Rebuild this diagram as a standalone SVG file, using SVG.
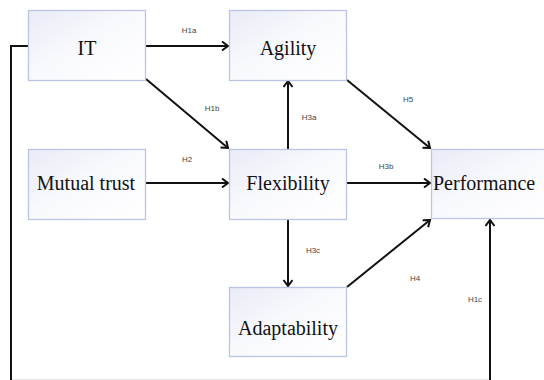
<svg xmlns="http://www.w3.org/2000/svg" width="544" height="380" viewBox="0 0 544 380">
  <defs>
    <linearGradient id="boxfill" x1="0" y1="0" x2="1" y2="1">
      <stop offset="0" stop-color="#e9ebf6"/>
      <stop offset="0.45" stop-color="#f8f9fd"/>
      <stop offset="1" stop-color="#ffffff"/>
    </linearGradient>
    <marker id="arr" markerUnits="userSpaceOnUse" markerWidth="10" markerHeight="12" refX="7" refY="5" orient="auto">
      <path d="M1,0.5 L7,5 L1,9.5" fill="none" stroke="#111" stroke-width="2"/>
    </marker>
    <style>
      .box { fill: url(#boxfill); stroke: #b9c5e3; stroke-width: 1.3; }
      .node text { font-family: "Liberation Serif", "Times New Roman", serif; font-size: 20px; fill: #111; }
      .conn { fill: none; stroke: #111; stroke-width: 2; }
      .lbl { font-family: "Liberation Sans", Arial, sans-serif; font-size: 8px; fill: #444; text-anchor: middle; }
    </style>
  </defs>
  <rect width="544" height="380" fill="#ffffff"/>

  <g id="connectors">
    <path class="conn" d="M146,46 L228,46" marker-end="url(#arr)"/>
    <path class="conn" d="M146,79 L228,148" marker-end="url(#arr)"/>
    <path class="conn" d="M146,183 L228,183" marker-end="url(#arr)"/>
    <path class="conn" d="M288,149 L288,81" marker-end="url(#arr)"/>
    <path class="conn" d="M347,80 L430,148" marker-end="url(#arr)"/>
    <path class="conn" d="M347,183 L430,183" marker-end="url(#arr)"/>
    <path class="conn" d="M288,219 L288,286" marker-end="url(#arr)"/>
    <path class="conn" d="M347,287 L430,220" marker-end="url(#arr)"/>
    <path class="conn" d="M28,46 L11,46 L11,383 L490,383 L490,220" marker-end="url(#arr)"/>
    <line x1="12" y1="379.5" x2="489" y2="379.5" stroke="#e6e6e6" stroke-width="1"/>
    <text class="lbl" x="189" y="33">H1a</text>
    <text class="lbl" x="212" y="111">H1b</text>
    <text class="lbl" x="187" y="162">H2</text>
    <text class="lbl" x="309" y="120">H3a</text>
    <text class="lbl" x="408" y="102">H5</text>
    <text class="lbl" x="386" y="169">H3b</text>
    <text class="lbl" x="313" y="253">H3c</text>
    <text class="lbl" x="415" y="281">H4</text>
    <text class="lbl" x="475" y="302">H1c</text>
  </g>

  <g id="it" class="node">
    <rect class="box" x="28.5" y="10.5" width="117" height="70"/>
    <text x="87" y="55" text-anchor="middle">IT</text>
  </g>
  <g id="agility" class="node">
    <rect class="box" x="229.5" y="10.5" width="117" height="70"/>
    <text x="288" y="55" text-anchor="middle">Agility</text>
  </g>
  <g id="mutual-trust" class="node">
    <rect class="box" x="28.5" y="149.5" width="117" height="70"/>
    <text x="86" y="190" text-anchor="middle">Mutual trust</text>
  </g>
  <g id="flexibility" class="node">
    <rect class="box" x="229.5" y="149.5" width="117" height="70"/>
    <text x="288" y="190" text-anchor="middle">Flexibility</text>
  </g>
  <g id="performance" class="node">
    <rect class="box" x="431.5" y="149.5" width="130" height="69"/>
    <text x="433" y="190">Performance</text>
  </g>
  <g id="adaptability" class="node">
    <rect class="box" x="229.5" y="287.5" width="117" height="69"/>
    <text x="288" y="335" text-anchor="middle">Adaptability</text>
  </g>
</svg>
